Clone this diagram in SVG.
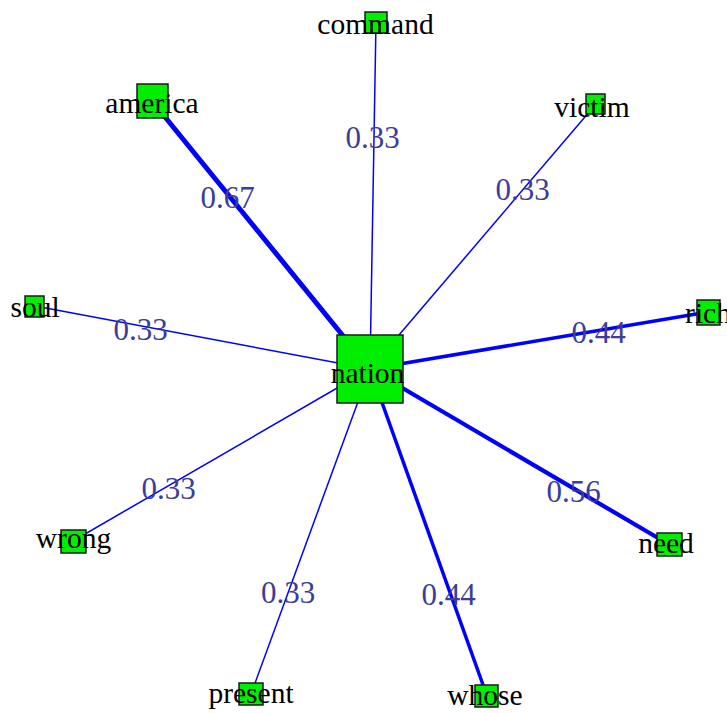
<svg xmlns="http://www.w3.org/2000/svg" width="727" height="713" viewBox="0 0 727 713">
<style>
.e{stroke:#0000ff;fill:none;stroke-linecap:butt}
.el{font-family:"Liberation Serif","Times New Roman",serif;font-size:31px;fill:#3c3c9a;text-anchor:middle}
.n{fill:#00ee00;stroke:#1a1a1a;stroke-width:1.5}
.nl{font-family:"Liberation Serif","Times New Roman",serif;font-size:29.5px;fill:#000;text-anchor:middle}
</style>
<rect width="727" height="713" fill="#fff"/>
<g id="edges">
<line class="e" x1="370" y1="369" x2="376" y2="22" stroke-width="1.5"/>
<line class="e" x1="370" y1="369" x2="152" y2="101" stroke-width="5"/>
<line class="e" x1="370" y1="369" x2="596" y2="104" stroke-width="1.5"/>
<line class="e" x1="370" y1="369" x2="35" y2="306" stroke-width="1.5"/>
<line class="e" x1="370" y1="369" x2="708" y2="312" stroke-width="3.5"/>
<line class="e" x1="370" y1="369" x2="670" y2="545" stroke-width="4.2"/>
<line class="e" x1="370" y1="369" x2="73" y2="541" stroke-width="1.5"/>
<line class="e" x1="370" y1="369" x2="251" y2="694" stroke-width="1.5"/>
<line class="e" x1="370" y1="369" x2="487" y2="696" stroke-width="3.5"/>
<text class="el" x="372.5" y="148">0.33</text>
<text class="el" x="227.5" y="208">0.67</text>
<text class="el" x="522.5" y="200">0.33</text>
<text class="el" x="140.5" y="340">0.33</text>
<text class="el" x="598.5" y="343">0.44</text>
<text class="el" x="573.5" y="502">0.56</text>
<text class="el" x="168.5" y="499">0.33</text>
<text class="el" x="288" y="603">0.33</text>
<text class="el" x="448.5" y="605">0.44</text>
</g>
<g id="nation"><rect class="n" x="337" y="335" width="66" height="68"/><text class="nl" x="367.5" y="383">nation</text></g>
<g id="command"><rect class="n" x="365" y="12" width="22" height="21"/><text class="nl" x="375.5" y="34">command</text></g>
<g id="america"><rect class="n" x="137" y="84" width="31" height="34"/><text class="nl" x="152" y="113">america</text></g>
<g id="victim"><rect class="n" x="586" y="94" width="19" height="20"/><text class="nl" x="592" y="117">victim</text></g>
<g id="soul"><rect class="n" x="25" y="296" width="19" height="21"/><text class="nl" x="35" y="317">soul</text></g>
<g id="rich"><rect class="n" x="697" y="300" width="23" height="25"/><text class="nl" x="708" y="323">rich</text></g>
<g id="need"><rect class="n" x="657" y="533" width="25" height="23"/><text class="nl" x="666" y="553">need</text></g>
<g id="wrong"><rect class="n" x="61" y="530" width="25" height="23"/><text class="nl" x="73.5" y="548">wrong</text></g>
<g id="present"><rect class="n" x="239" y="683" width="24" height="22"/><text class="nl" x="251" y="703">present</text></g>
<g id="whose"><rect class="n" x="475" y="685" width="23" height="22"/><text class="nl" x="485" y="705">whose</text></g>
</svg>
